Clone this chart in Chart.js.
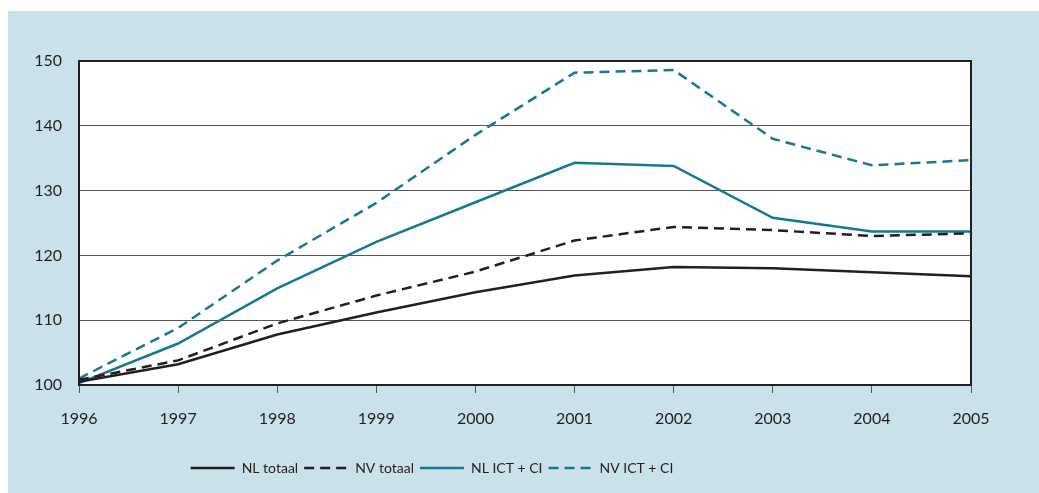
<!DOCTYPE html>
<html>
<head>
<meta charset="utf-8">
<script src="https://cdn.jsdelivr.net/npm/chart.js@4"></script>
<style>
  html, body { margin: 0; padding: 0; background: #fff; }
  #wrap { width: 1039px; height: 493px; }
</style>
</head>
<body>
<div id="wrap"><canvas id="indexChart" width="1039" height="493"></canvas></div>
<script>
const years = ["1996", "1997", "1998", "1999", "2000", "2001", "2002", "2003", "2004", "2005"];
const nlTotaal = [100.5, 103.2, 107.8, 111.2, 114.3, 116.9, 118.2, 118.0, 117.4, 116.8];
const nvTotaal = [100.8, 103.8, 109.5, 113.8, 117.5, 122.3, 124.4, 123.9, 123.0, 123.4];
const nlIct = [100.3, 106.4, 114.9, 122.1, 128.2, 134.3, 133.8, 125.8, 123.7, 123.7];
const nvIct = [101.0, 108.8, 119.2, 128.1, 138.6, 148.2, 148.6, 138.0, 133.9, 134.7];
const yTicks = [100, 110, 120, 130, 140, 150];

const black = "#231f20";
const teal = "#17788f";

// light blue panel + white plot area, border on top of the lines
const panelPlugin = {
  id: "panel",
  beforeDraw(chart) {
    const ctx = chart.ctx;
    const a = chart.chartArea;
    ctx.save();
    ctx.fillStyle = "#c9e1ea";
    ctx.fillRect(8, 11, chart.width - 8, chart.height - 11);
    ctx.fillStyle = "#ffffff";
    ctx.fillRect(a.left, a.top, a.right - a.left, a.bottom - a.top);
    ctx.restore();
  },
  afterDatasetsDraw(chart) {
    const ctx = chart.ctx;
    const a = chart.chartArea;
    ctx.save();
    ctx.strokeStyle = black;
    ctx.lineWidth = 2;
    ctx.strokeRect(a.left, a.top, a.right - a.left, a.bottom - a.top);
    ctx.restore();
  },
  afterLayout(chart) {
    // legend sits a bit left of the centre in the original
    const lg = chart.legend;
    const shift = 432 - (lg.left + lg.right) / 2;
    lg.left += shift;
    lg.right += shift;
  },
};

function makeSet(label, data, color, dash) {
  return {
    label: label,
    data: data,
    borderColor: color,
    backgroundColor: color,
    borderWidth: 2.5,
    borderDash: dash,
    pointRadius: 0,
    fill: false,
    tension: 0,
  };
}

const ctx = document.getElementById("indexChart").getContext("2d");
const indexChart = new Chart(ctx, {
  type: "line",
  data: {
    labels: years,
    datasets: [
      makeSet("NL totaal", nlTotaal, black, []),
      makeSet("NV totaal", nvTotaal, black, [10, 6]),
      makeSet("NL ICT + CI", nlIct, teal, []),
      makeSet("NV ICT + CI", nvIct, teal, [10, 6]),
    ],
  },
  options: {
    responsive: false,
    animation: false,
    layout: {
      padding: { top: 61, right: 68, bottom: 8, left: 0 },
    },
    scales: {
      x: {
        offset: false,
        grid: {
          drawOnChartArea: false,
          drawTicks: true,
          tickLength: 8,
          tickColor: "#555",
          offset: false,
        },
        border: { display: false },
        ticks: {
          color: black,
          padding: 16,
          maxRotation: 0,
          font: { family: "Lato", size: 16 },
        },
        afterFit(scale) {
          scale.height = 70;
        },
      },
      y: {
        min: 100,
        max: 150,
        afterBuildTicks(scale) {
          scale.ticks = yTicks.map((v) => ({ value: v }));
        },
        grid: {
          color: "#555",
          lineWidth: 1,
          drawTicks: false,
        },
        border: { display: false },
        ticks: {
          color: black,
          padding: 17,
          font: { family: "Lato", size: 16 },
        },
        afterFit(scale) {
          scale.width = 79;
        },
      },
    },
    plugins: {
      legend: {
        display: true,
        position: "bottom",
        labels: {
          usePointStyle: true,
          pointStyle: "line",
          pointStyleWidth: 44,
          boxWidth: 44,
          padding: 6,
          color: black,
          font: { family: "Lato", size: 14 },
          generateLabels(chart) {
            const items = Chart.defaults.plugins.legend.labels.generateLabels(chart);
            items.forEach((item) => {
              const ds = chart.data.datasets[item.datasetIndex];
              item.lineDash = ds.borderDash;
              item.lineWidth = 2.5;
              item.strokeStyle = ds.borderColor;
            });
            return items;
          },
        },
      },
      tooltip: { enabled: false },
    },
  },
  plugins: [panelPlugin],
});
</script>
</body>
</html>
